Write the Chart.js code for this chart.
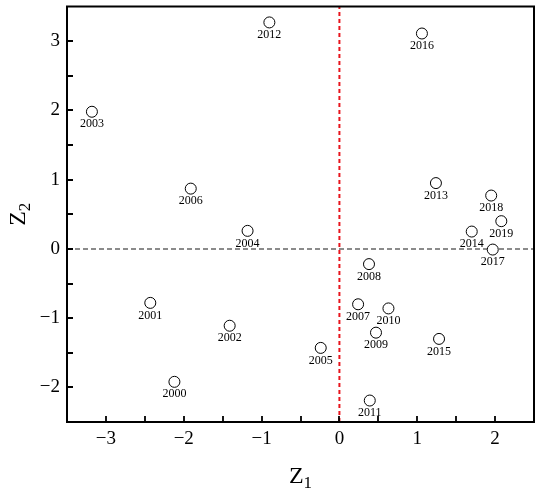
<!DOCTYPE html>
<html>
<head>
<meta charset="utf-8">
<script src="https://cdn.jsdelivr.net/npm/chart.js@4"></script>
<style>
  html, body { margin: 0; padding: 0; background: #fff; }
  canvas { display: block; }
</style>
</head>
<body>
<canvas id="c" width="550" height="497"></canvas>
<script>
// ---- data ----
const years = ['2000','2001','2002','2003','2004','2005','2006','2007','2008','2009',
               '2010','2011','2012','2013','2014','2015','2016','2017','2018','2019'];
const z1 = [-2.12, -2.43, -1.41, -3.18, -1.18, -0.24, -1.91, 0.24, 0.38, 0.47,
             0.63,  0.39, -0.90,  1.24,  1.70,  1.28,  1.06, 1.97, 1.95, 2.08];
const z2 = [-1.92, -0.78, -1.11,  1.98,  0.26, -1.43,  0.87, -0.80, -0.22, -1.21,
            -0.86, -2.19,  3.27,  0.95,  0.25, -1.30,  3.11, -0.01, 0.77, 0.40];
const xRange = [-3.5, 2.5];
const yRange = [-2.5, 3.5];
const xTicksLabelled = [-3, -2, -1, 0, 1, 2];
const yTicksLabelled = [-2, -1, 0, 1, 2, 3];
const vRefX = 0;   // red dashed vertical line
const hRefY = 0;   // grey dashed horizontal line

const FONT = "'Times New Roman', 'Liberation Serif', serif";
const fmt = v => (v < 0 ? '\u2212' + Math.abs(v) : String(v));

const points = years.map((y, i) => ({ x: z1[i], y: z2[i], year: y }));

const framePlugin = {
  id: 'frame',
  afterDatasetsDraw(chart) {
    const ctx = chart.ctx;
    const a = chart.chartArea;
    const xs = chart.scales.x, ys = chart.scales.y;
    // year labels
    const meta = chart.getDatasetMeta(0);
    ctx.save();
    ctx.fillStyle = '#000';
    ctx.font = '12px ' + FONT;
    ctx.textAlign = 'center';
    ctx.textBaseline = 'middle';
    meta.data.forEach((el, i) => {
      ctx.fillText(points[i].year, el.x, el.y + 12.5);
    });
    ctx.restore();

    // frame
    ctx.save();
    ctx.strokeStyle = '#000';
    ctx.lineWidth = 2;
    ctx.strokeRect(a.left, a.top, a.right - a.left, a.bottom - a.top);
    // inward ticks
    ctx.lineWidth = 1.8;
    ctx.beginPath();
    xs.ticks.forEach(t => {
      if (t.value <= xRange[0] || t.value >= xRange[1]) return;
      const px = Math.round(xs.getPixelForValue(t.value));
      ctx.moveTo(px, a.bottom);
      ctx.lineTo(px, a.bottom - 6);
    });
    ys.ticks.forEach(t => {
      if (t.value <= yRange[0] || t.value >= yRange[1]) return;
      const py = Math.round(ys.getPixelForValue(t.value));
      ctx.moveTo(a.left, py);
      ctx.lineTo(a.left + 6, py);
    });
    ctx.stroke();
    ctx.restore();

    // axis titles with subscripts
    ctx.save();
    ctx.fillStyle = '#000';
    ctx.textBaseline = 'alphabetic';
    ctx.textAlign = 'left';
    const big = '24px ' + FONT, small = '17px ' + FONT;
    ctx.font = big; const wZ = ctx.measureText('Z').width;
    ctx.font = small; const w1 = ctx.measureText('1').width;
    const cx = (a.left + a.right) / 2;
    let x0 = cx - (wZ + w1) / 2;
    ctx.font = big; ctx.fillText('Z', x0, 483);
    ctx.font = small; ctx.fillText('1', x0 + wZ, 488);

    const cy = (a.top + a.bottom) / 2;
    ctx.translate(25, cy);
    ctx.rotate(-Math.PI / 2);
    ctx.font = big; const wZ2 = ctx.measureText('Z').width;
    ctx.font = small; const w2 = ctx.measureText('2').width;
    x0 = -(wZ2 + w2) / 2;
    ctx.font = big; ctx.fillText('Z', x0, 0);
    ctx.font = small; ctx.fillText('2', x0 + wZ2, 5);
    ctx.restore();
  }
};

new Chart(document.getElementById('c'), {
  type: 'scatter',
  data: {
    datasets: [
      {
        label: 'years',
        data: points,
        pointRadius: 5.5,
        pointHoverRadius: 5.5,
        pointBackgroundColor: '#fff',
        pointBorderColor: '#000',
        pointBorderWidth: 1,
        showLine: false
      },
      {
        label: 'vref',
        type: 'line',
        data: [{ x: vRefX, y: yRange[0] }, { x: vRefX, y: yRange[1] }],
        borderColor: '#e8141c',
        borderWidth: 2,
        borderDash: [4, 3],
        pointRadius: 0,
        fill: false
      },
      {
        label: 'href',
        type: 'line',
        data: [{ x: xRange[0], y: hRefY }, { x: xRange[1], y: hRefY }],
        borderColor: '#666',
        borderWidth: 1.5,
        borderDash: [5, 3],
        pointRadius: 0,
        fill: false
      }
    ]
  },
  options: {
    responsive: false,
    animation: false,
    devicePixelRatio: 1,
    layout: { padding: { top: 6, right: 16, left: 0, bottom: 0 } },
    plugins: { legend: { display: false }, tooltip: { enabled: false } },
    scales: {
      x: {
        type: 'linear',
        min: xRange[0], max: xRange[1],
        grid: { display: false, drawTicks: false },
        border: { display: false },
        ticks: {
          stepSize: 0.5, autoSkip: false, maxRotation: 0,
          padding: 6, color: '#000',
          font: { family: FONT, size: 19 },
          callback: v => (xTicksLabelled.includes(v) ? fmt(v) : '')
        },
        afterFit: s => { s.height = 75; s.paddingLeft = 0; s.paddingRight = 0; }
      },
      y: {
        type: 'linear',
        min: yRange[0], max: yRange[1],
        grid: { display: false, drawTicks: false },
        border: { display: false },
        ticks: {
          stepSize: 0.5, autoSkip: false,
          padding: 7, color: '#000',
          font: { family: FONT, size: 19 },
          callback: v => (yTicksLabelled.includes(v) ? fmt(v) : '')
        },
        afterFit: s => { s.width = 67; s.paddingTop = 0; s.paddingBottom = 0; }
      }
    }
  },
  plugins: [framePlugin]
});
</script>
</body>
</html>
